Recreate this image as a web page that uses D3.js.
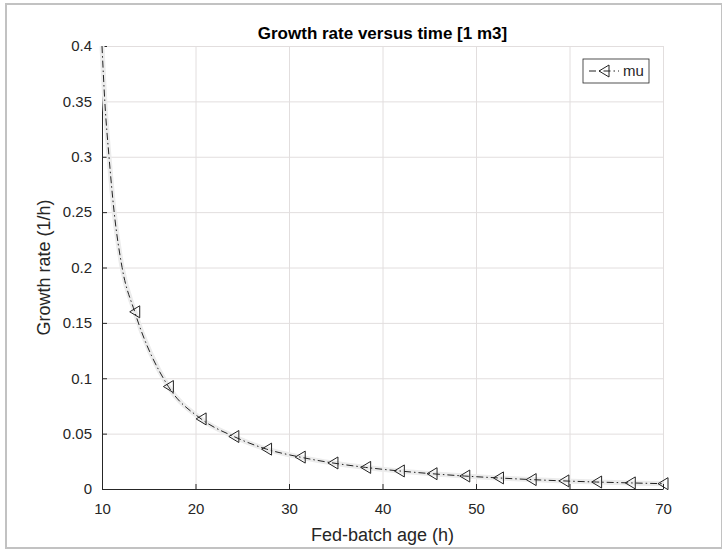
<!DOCTYPE html>
<html>
<head>
<meta charset="utf-8">
<script src="https://cdn.jsdelivr.net/npm/d3@7"></script>
<style>
  body { margin: 0; background: #fff; }
  svg { display: block; font-family: "Liberation Sans", Arial, sans-serif; }
</style>
</head>
<body>
<svg width="722" height="550"></svg>
<script>
// Curve points: first few (no marker) then every marker
const startTime = [10, 10.3, 10.75, 11.3, 12.15];
const startMu = [0.4, 0.35, 0.3, 0.25, 0.2];
const markerTime = [13.5, 17.1, 20.6, 24.1, 27.6, 31.2, 34.7, 38.2, 41.8, 45.3, 48.8, 52.4, 55.9, 59.4, 62.9, 66.5, 70];
const markerMu = [0.16, 0.0925, 0.0633, 0.0474, 0.036, 0.0288, 0.0235, 0.0195, 0.0163, 0.0138, 0.0117, 0.01, 0.0085, 0.0073, 0.0063, 0.0055, 0.0048];
// Ticks
const xTicks = [10, 20, 30, 40, 50, 60, 70];
const yTicks = [0, 0.05, 0.1, 0.15, 0.2, 0.25, 0.3, 0.35, 0.4];
const yTickLabels = ["0", "0.05", "0.1", "0.15", "0.2", "0.25", "0.3", "0.35", "0.4"];

const plotL = 102, plotR = 663, plotT = 46, plotB = 489;
const ink = "#262626";
const gridColor = "#e2dede";

var x = d3.scaleLinear().domain([10, 70]).range([plotL, plotR]);
var y = d3.scaleLinear().domain([0, 0.4]).range([plotB, plotT]);

const svg = d3.select("svg");

// figure frame
svg.append("rect")
    .attr("x", 6).attr("y", 4)
    .attr("width", 716).attr("height", 544)
    .attr("fill", "none")
    .attr("stroke", "#c2c2c2")
    .attr("stroke-width", 2);

// grid
svg.append("g")
    .attr("transform", `translate(0,${plotB})`)
    .call(d3.axisBottom(x).tickValues(xTicks).tickSize(-(plotB - plotT)).tickFormat(""))
    .call(g => g.select(".domain").remove())
    .call(g => g.selectAll("line").attr("stroke", gridColor));
svg.append("g")
    .attr("transform", `translate(${plotL},0)`)
    .call(d3.axisLeft(y).tickValues(yTicks).tickSize(-(plotR - plotL)).tickFormat(""))
    .call(g => g.select(".domain").remove())
    .call(g => g.selectAll("line").attr("stroke", gridColor));

// axes (ticks point inwards like matlab)
svg.append("g")
    .attr("transform", `translate(0,${plotB})`)
    .call(d3.axisBottom(x).tickValues(xTicks).tickSize(-5).tickSizeOuter(0).tickPadding(14))
    .call(g => g.selectAll("line, path").attr("stroke", ink))
    .call(g => g.selectAll("text").attr("fill", ink).style("font-size", "15px").style("font-family", null));
svg.append("g")
    .attr("transform", `translate(${plotL},0)`)
    .call(d3.axisLeft(y).tickValues(yTicks).tickSize(-5).tickSizeOuter(0).tickPadding(10)
        .tickFormat((d, i) => yTickLabels[i]))
    .call(g => g.selectAll("line, path").attr("stroke", ink))
    .call(g => g.selectAll("text").attr("fill", ink).style("font-size", "15px").style("font-family", null));

// the curve
const pts = startTime.map((t, i) => [t, startMu[i]])
    .concat(markerTime.map((t, i) => [t, markerMu[i]]));
const line = d3.line()
    .x(d => x(d[0]))
    .y(d => y(d[1]))
    .curve(d3.curveMonotoneX);

svg.append("path")
    .attr("d", line(pts))
    .attr("fill", "none")
    .attr("stroke", "#ececec")
    .attr("stroke-width", 5);
svg.append("path")
    .attr("d", line(pts))
    .attr("fill", "none")
    .attr("stroke", "#222")
    .attr("stroke-width", 1)
    .attr("stroke-dasharray", "7,3,1.5,3");

const tri = "M-5,0L5,-6L5,6Z";
svg.append("g")
    .selectAll("path")
    .data(markerTime)
    .join("path")
    .attr("transform", (d, i) => `translate(${x(d)},${y(markerMu[i])})`)
    .attr("d", tri)
    .attr("fill", "none")
    .attr("stroke", "#222")
    .attr("stroke-width", 1);

// legend
const lg = svg.append("g").attr("transform", "translate(583,59)");
lg.append("rect")
    .attr("width", 66).attr("height", 24)
    .attr("fill", "#fff")
    .attr("stroke", ink)
    .attr("stroke-width", 0.8);
lg.append("line")
    .attr("x1", 6).attr("x2", 36).attr("y1", 12).attr("y2", 12)
    .attr("stroke", "#222")
    .attr("stroke-dasharray", "7,3,1.5,3");
lg.append("path")
    .attr("transform", "translate(21,12)")
    .attr("d", tri)
    .attr("fill", "none")
    .attr("stroke", "#222");
lg.append("text")
    .attr("x", 40).attr("y", 17)
    .attr("fill", ink)
    .style("font-size", "15px")
    .text("mu");

// titles
svg.append("text")
    .attr("x", (plotL + plotR) / 2).attr("y", 39)
    .attr("text-anchor", "middle")
    .attr("fill", "#000")
    .style("font-size", "17px")
    .style("font-weight", "bold")
    .text("Growth rate versus time [1 m3]");
svg.append("text")
    .attr("x", (plotL + plotR) / 2).attr("y", 541)
    .attr("text-anchor", "middle")
    .attr("fill", ink)
    .style("font-size", "18px")
    .text("Fed-batch age (h)");
svg.append("text")
    .attr("transform", `translate(50,${(plotT + plotB) / 2}) rotate(-90)`)
    .attr("text-anchor", "middle")
    .attr("fill", ink)
    .style("font-size", "18px")
    .text("Growth rate (1/h)");
</script>
</body>
</html>
